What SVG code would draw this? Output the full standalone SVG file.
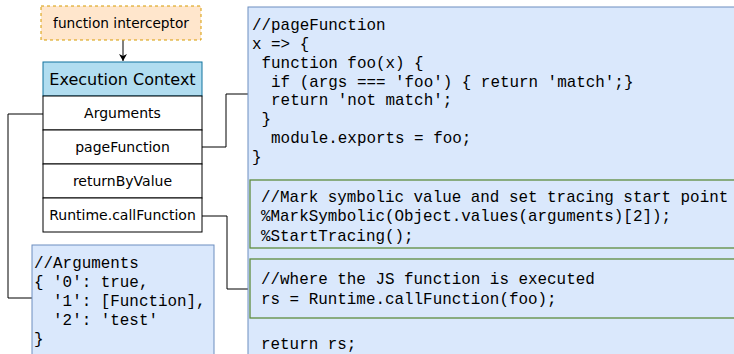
<svg xmlns="http://www.w3.org/2000/svg" width="734" height="354" viewBox="0 0 734 354">
<style>
.sans{font-family:"DejaVu Sans",Verdana,sans-serif;fill:#000;text-anchor:middle}
.code{font-family:"Liberation Mono","Courier New",monospace;font-size:15.9px;fill:#000;white-space:pre}
.row{fill:#fff;stroke:#000;stroke-width:1}
.blue{fill:#dae8fc;stroke:#6c8ebf;stroke-width:1}
.green{fill:#dae8fc;stroke:#5e8c3e;stroke-width:1.3}
.conn{fill:none;stroke:#000;stroke-width:1}
</style>
<defs>
<marker id="arr" markerWidth="10" markerHeight="10" refX="8" refY="5" orient="auto" markerUnits="userSpaceOnUse">
<path d="M1,1 L8,5 L1,9 L3,5 Z" fill="#000"/>
</marker>
</defs>
<rect width="734" height="354" fill="#fff"/>

<g id="connectors">
<path class="conn" d="M123,40 L123,61" marker-end="url(#arr)"/>
<path class="conn" d="M43,114 L8,114 L8,298 L32,298"/>
<path class="conn" d="M202,147 L226,147 L226,94 L248,94"/>
<path class="conn" d="M202,216 L227,216 L227,289 L250,289"/>
</g>

<g id="interceptor">
<rect x="41" y="6" width="160" height="34" fill="#ffe6cc" stroke="#d79b00" stroke-dasharray="3,3"/>
<text class="sans" x="121" y="28" font-size="13.7">function interceptor</text>
</g>

<g id="execution-context">
<rect x="43" y="62" width="159" height="34" fill="#b1ddf0" stroke="#10739e"/>
<text class="sans" x="122.5" y="85" font-size="16">Execution Context</text>
</g>
<g id="row-arguments">
<rect class="row" x="43" y="96" width="159" height="34"/>
<text class="sans" x="122.5" y="118" font-size="14">Arguments</text>
</g>
<g id="row-pagefunction">
<rect class="row" x="43" y="130" width="159" height="34"/>
<text class="sans" x="122.5" y="152" font-size="14">pageFunction</text>
</g>
<g id="row-returnbyvalue">
<rect class="row" x="43" y="164" width="159" height="34"/>
<text class="sans" x="122.5" y="186" font-size="14">returnByValue</text>
</g>
<g id="row-callfunction">
<rect class="row" x="43" y="198" width="159" height="34"/>
<text class="sans" x="122.5" y="220" font-size="14">Runtime.callFunction</text>
</g>

<g id="arguments-box">
<rect class="blue" x="32" y="245" width="182" height="120"/>
<text class="code" x="34" y="268">//Arguments</text>
<text class="code" x="34" y="287">{ '0': true,</text>
<text class="code" x="34" y="306">  '1': [Function],</text>
<text class="code" x="34" y="325">  '2': 'test'</text>
<text class="code" x="34" y="344">}</text>
</g>

<g id="page-function-box">
<rect class="blue" x="248" y="7" width="500" height="360"/>
<text class="code" x="252" y="30">//pageFunction</text>
<text class="code" x="252" y="49">x =&gt; {</text>
<text class="code" x="252" y="68"> function foo(x) {</text>
<text class="code" x="252" y="87">  if (args === 'foo') { return 'match';}</text>
<text class="code" x="252" y="105">  return 'not match';</text>
<text class="code" x="252" y="124"> }</text>
<text class="code" x="252" y="143">  module.exports = foo;</text>
<text class="code" x="252" y="162">}</text>
<text class="code" x="261" y="349">return rs;</text>
</g>

<g id="tracing-box">
<rect class="green" x="250" y="180" width="490" height="68"/>
<text class="code" x="261" y="202">//Mark symbolic value and set tracing start point</text>
<text class="code" x="261" y="221">%MarkSymbolic(Object.values(arguments)[2]);</text>
<text class="code" x="261" y="241">%StartTracing();</text>
</g>

<g id="call-box">
<rect class="green" x="250" y="259" width="490" height="59"/>
<text class="code" x="261" y="284">//where the JS function is executed</text>
<text class="code" x="261" y="304">rs = Runtime.callFunction(foo);</text>
</g>
</svg>
